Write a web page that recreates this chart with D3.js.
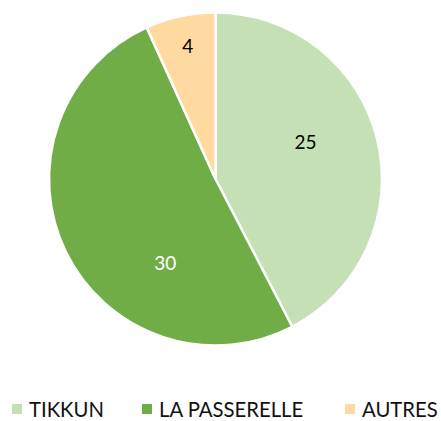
<!DOCTYPE html>
<html>
<head>
<meta charset="utf-8">
<script src="https://cdn.jsdelivr.net/npm/d3@7"></script>
<style>
  body { margin: 0; background: #fff; }
  svg { display: block; font-family: Lato, "Open Sans", sans-serif; }
</style>
</head>
<body>
<svg id="chart"></svg>
<script>
const categories = ['TIKKUN', 'LA PASSERELLE', 'AUTRES'];
const values = [25, 30, 4];
const colors = ['#C5E0B4', '#70AD47', '#FFD99F'];
const labelColors = ['#000', '#fff', '#000'];

const width = 441, height = 421;
const cx = 215.5, cy = 179, radius = 166.5;

const svg = d3.select('#chart')
    .attr('width', width)
    .attr('height', height);

const data = categories.map((c, i) => ({ name: c, value: values[i], i: i }));

const pie = d3.pie()
    .sort(null)
    .value(d => d.value);
const arcs = pie(data);

const arc = d3.arc()
    .innerRadius(0)
    .outerRadius(radius);

const g = svg.append('g')
    .attr('transform', 'translate(' + cx + ',' + cy + ')');

g.selectAll('path')
    .data(arcs)
    .join('path')
    .attr('d', arc)
    .attr('fill', d => colors[d.data.i])
    .attr('stroke', '#fff')
    .attr('stroke-width', 2.5)
    .attr('stroke-linejoin', 'round');

// label placement roughly like excel's best fit
const labelFrac = [0.443, 0.32, 0.52];
const labelDist = [0.585, 0.585, 0.82];
g.selectAll('text')
    .data(arcs)
    .join('text')
    .attr('x', d => {
        const a = d.startAngle + (d.endAngle - d.startAngle) * labelFrac[d.data.i];
        return Math.sin(a) * radius * labelDist[d.data.i];
    })
    .attr('y', d => {
        const a = d.startAngle + (d.endAngle - d.startAngle) * labelFrac[d.data.i];
        return -Math.cos(a) * radius * labelDist[d.data.i];
    })
    .attr('text-anchor', 'middle')
    .attr('dominant-baseline', 'central')
    .attr('fill', d => labelColors[d.data.i])
    .style('font-size', '19px')
    .text(d => d.data.value);

// legend
const legendX = [12, 142, 345];
const legend = svg.append('g')
    .selectAll('g')
    .data(data)
    .join('g')
    .attr('transform', d => 'translate(' + legendX[d.i] + ', 409)');
legend.append('rect')
    .attr('x', 0)
    .attr('y', -5)
    .attr('width', 10)
    .attr('height', 10)
    .attr('fill', d => colors[d.i]);
legend.append('text')
    .attr('x', 17)
    .attr('y', 0)
    .attr('dominant-baseline', 'central')
    .style('font-size', '20.3px')
    .attr('fill', '#111')
    .text(d => d.name);
</script>
</body>
</html>
